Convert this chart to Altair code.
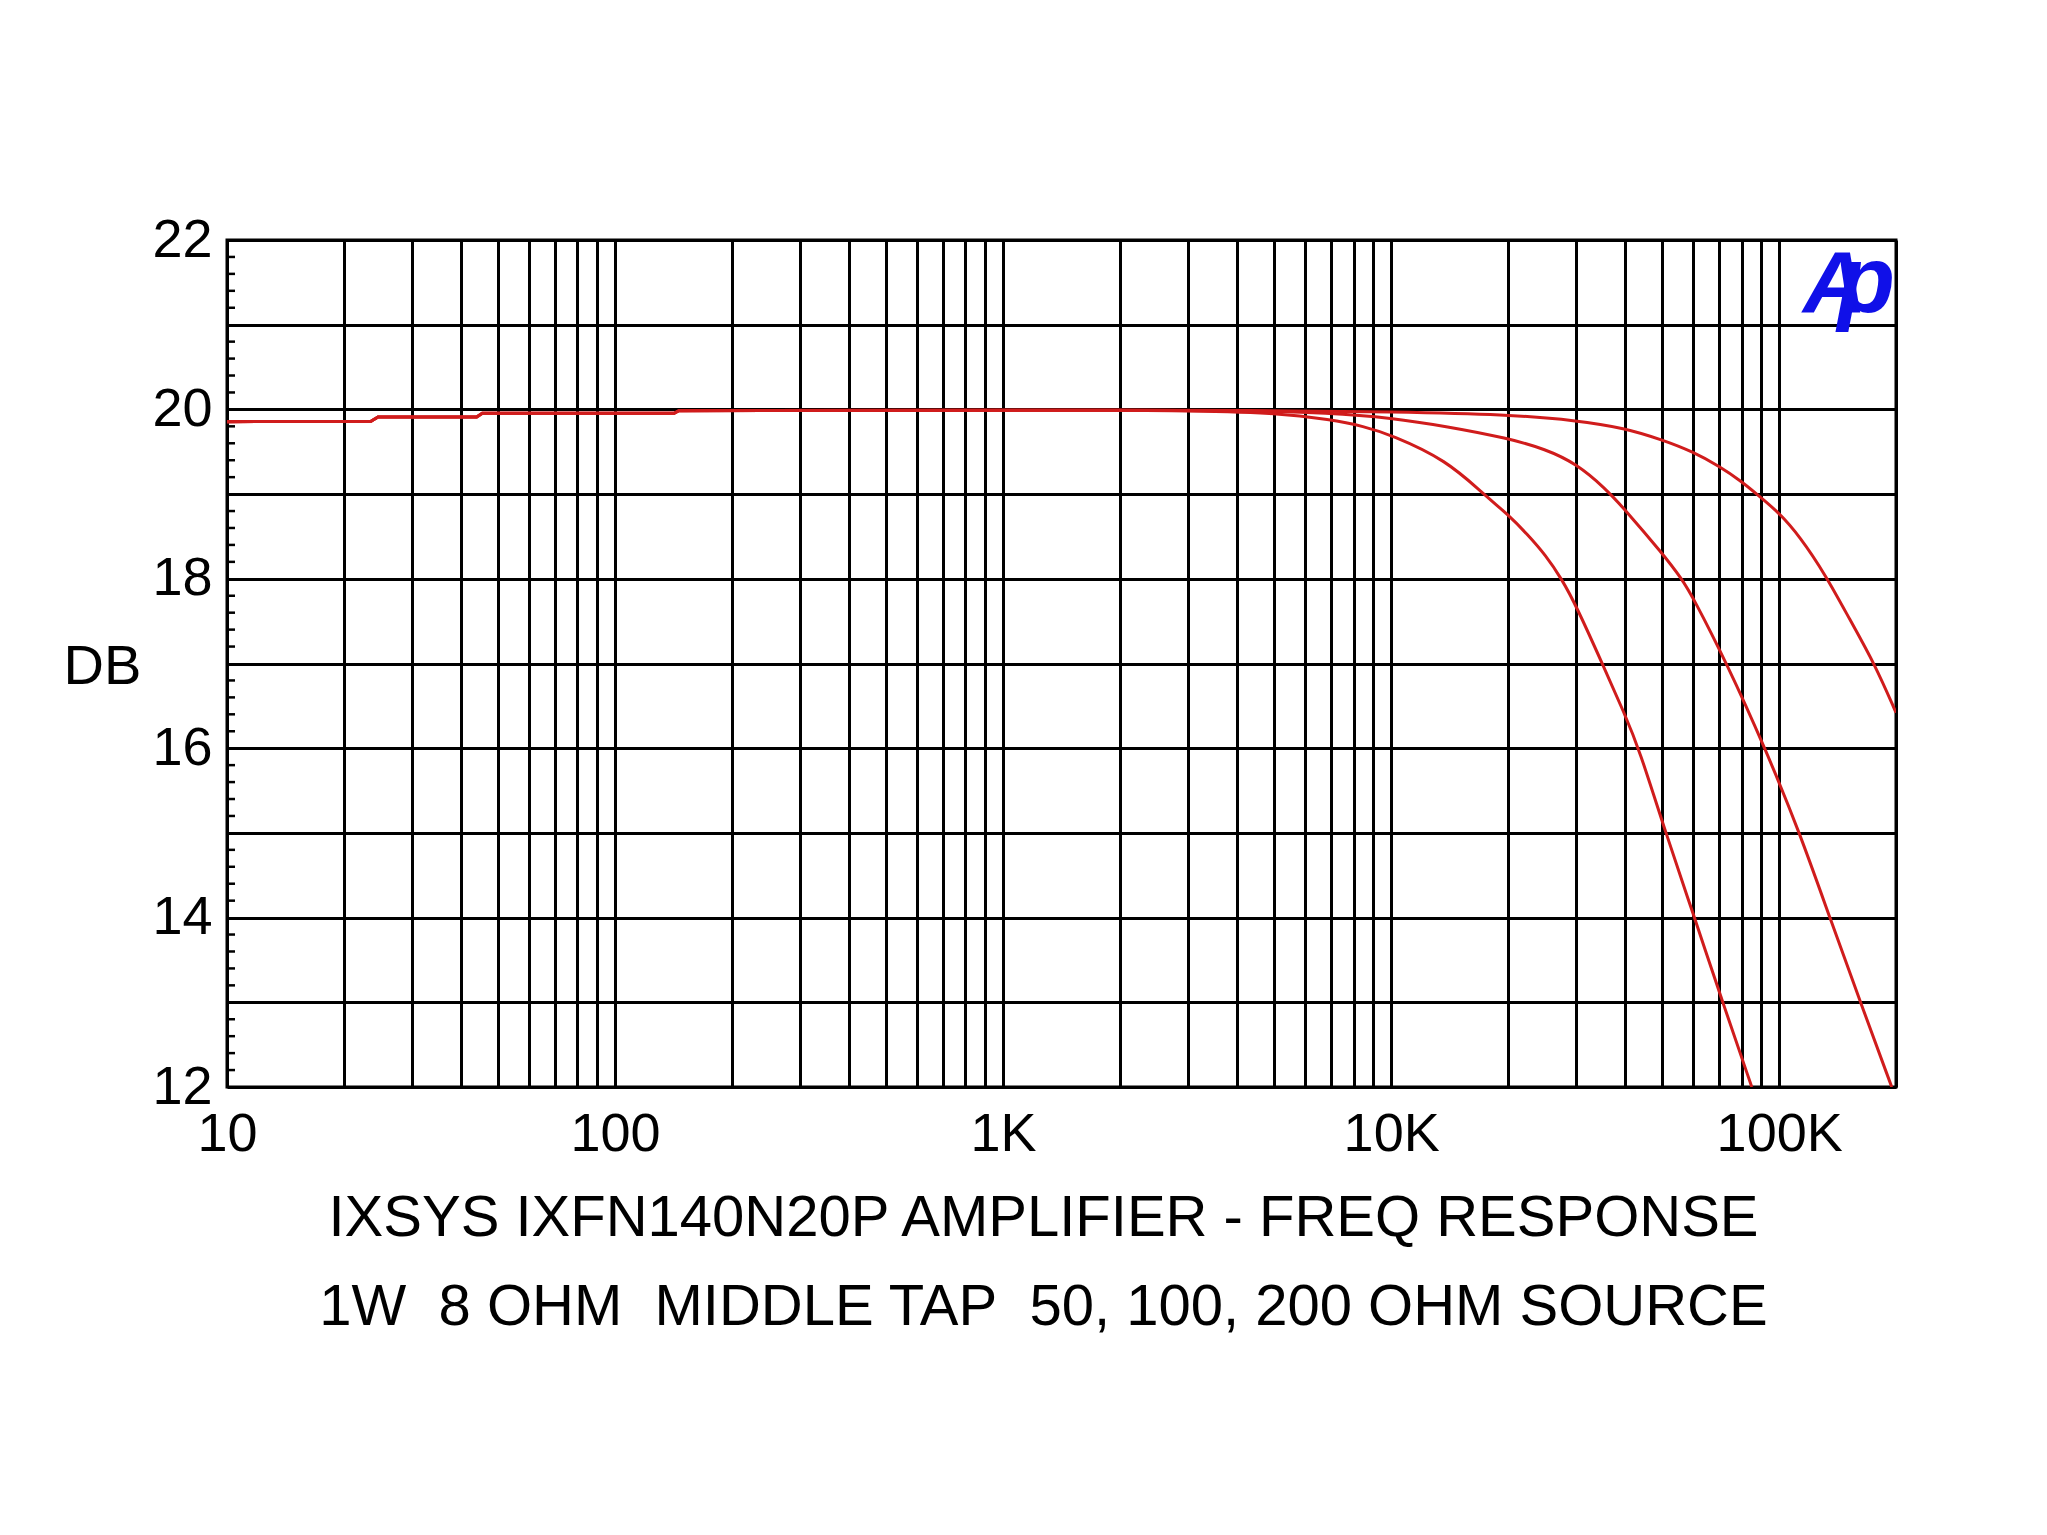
import altair as alt
import pandas as pd

# ---- data (frequency in Hz, level in dB) ----
series_names = ["200 OHM SOURCE", "100 OHM SOURCE", "50 OHM SOURCE"]

freq_200 = [10, 23.5, 24.5, 44, 45.5, 142, 146, 1000, 3000, 5000, 7000, 8500, 10000, 13900,
            17300, 20000, 22500, 25000, 27500, 30000, 35000, 40000, 43500, 51000, 60500, 71500, 85000]
db_200 = [19.855, 19.86, 19.91, 19.91, 19.955, 19.955, 19.985, 19.99, 19.99, 19.96, 19.88, 19.80,
          19.70, 19.40, 19.0, 18.76, 18.52, 18.28, 18.0, 17.68, 17.0, 16.40, 16.0, 15.0, 14.0, 13.0, 12.0]

freq_100 = [10, 23.5, 24.5, 44, 45.5, 142, 146, 1000, 4000, 7000, 10000, 13900, 20000, 25000,
            30000, 35600, 40000, 50000, 56100, 60000, 73300, 92000, 113000, 135000, 162000, 195000]
db_100 = [19.855, 19.86, 19.91, 19.91, 19.955, 19.955, 19.985, 19.99, 19.99, 19.96, 19.90, 19.80,
          19.66, 19.53, 19.36, 19.07, 18.82, 18.30, 18.0, 17.78, 17.0, 16.0, 15.0, 14.0, 13.0, 12.0]

freq_50 = [10, 23.5, 24.5, 44, 45.5, 142, 146, 1000, 5000, 10000, 20000, 30000, 40000, 50000,
           60000, 70000, 80000, 87500, 100000, 113000, 131500, 152000, 176000, 200000]
db_50 = [19.855, 19.86, 19.91, 19.91, 19.955, 19.955, 19.985, 19.99, 19.99, 19.97, 19.94, 19.87,
         19.78, 19.64, 19.50, 19.33, 19.15, 19.0, 18.78, 18.50, 18.05, 17.52, 17.0, 16.42]

x_tick_values = [m * 10 ** e for e in range(1, 6) for m in range(1, 10)] + [200000]
y_tick_values = list(range(12, 23))
y_minor_ticks = [round(12 + 0.2 * i, 1) for i in range(1, 50) if i % 5 != 0]

title_lines = ["IXSYS IXFN140N20P AMPLIFIER - FREQ RESPONSE",
               "1W\u00a0\u00a08 OHM\u00a0\u00a0MIDDLE TAP\u00a0\u00a050, 100, 200 OHM SOURCE"]

rows = []
for name, fs, ds in zip(series_names, [freq_200, freq_100, freq_50], [db_200, db_100, db_50]):
    for f, d in zip(fs, ds):
        rows.append({"series": name, "freq": f, "db": d})
df = pd.DataFrame(rows)

FONT = "Liberation Sans"
W, H = 1669, 847
LINE_RED = "#d01c1c"

xscale = alt.Scale(type="log", domain=[10, 200000], nice=False)
yscale = alt.Scale(domain=[12, 22], nice=False, zero=False)

label_expr_x = ("datum.value == 10 ? '10' : datum.value == 100 ? '100' : "
                "datum.value == 1000 ? '1K' : datum.value == 10000 ? '10K' : "
                "datum.value == 100000 ? '100K' : ''")

x_axis = alt.Axis(
    values=x_tick_values, labelExpr=label_expr_x, labelOverlap=False, labelFlush=False,
    ticks=False, tickSize=0, domain=False, grid=True, gridColor="black", gridWidth=3,
    gridOpacity=1, labelFont=FONT, labelFontSize=54, labelColor="black", labelPadding=20,
    title=title_lines, titleFont=FONT, titleFontSize=58, titleFontWeight="normal",
    titleColor="black", titleX=816, titleY=102, titleAlign="center", titleBaseline="top",
    titleLineHeight=89)

y_axis = alt.Axis(
    values=y_tick_values, labelExpr="datum.value % 2 == 0 ? datum.label : ''",
    labelOverlap=False, labelFlush=False, ticks=False, tickSize=0, domain=False, grid=True,
    gridColor="black", gridWidth=3, gridOpacity=1, labelFont=FONT, labelFontSize=54,
    labelColor="black", labelPadding=15, title="DB", titleFont=FONT, titleFontSize=56,
    titleFontWeight="normal", titleColor="black", titleAngle=0, titleX=-125, titleY=426,
    titleAlign="center", titleBaseline="middle")

# low-frequency part (stepped), drawn with straight segments
low = alt.Chart(df).transform_filter("datum.freq <= 1000").mark_line(
    color=LINE_RED, strokeWidth=3, clip=True).encode(
    x=alt.X("freq:Q", scale=xscale, axis=x_axis),
    y=alt.Y("db:Q", scale=yscale, axis=y_axis),
    detail="series:N",
)

# roll-off part, drawn as a smooth curve
high = alt.Chart(df).transform_filter("datum.freq >= 1000").mark_line(
    color=LINE_RED, strokeWidth=3, clip=True, interpolate="basis").encode(
    x=alt.X("freq:Q", scale=xscale, axis=x_axis),
    y=alt.Y("db:Q", scale=yscale, axis=y_axis),
    detail="series:N",
)

minor = alt.Chart(pd.DataFrame({"db": y_minor_ticks})).mark_rule(color="black", strokeWidth=2.5).encode(
    y=alt.Y("db:Q", scale=yscale, axis=y_axis),
    x=alt.value(0), x2=alt.value(8),
)

logo_a = alt.Chart(pd.DataFrame({"t": ["A"]})).mark_text(
    font=FONT, fontSize=88, fontWeight="bold", fontStyle="italic", color="#1010e8",
    align="left", baseline="alphabetic",
).encode(text="t:N", x=alt.value(1576), y=alt.value(72))

logo_p = alt.Chart(pd.DataFrame({"t": ["p"]})).mark_text(
    font=FONT, fontSize=94, fontWeight="bold", fontStyle="italic", color="#1010e8",
    align="right", baseline="alphabetic",
).encode(text="t:N", x=alt.value(1668), y=alt.value(72))

chart = alt.layer(low, high, minor, logo_a, logo_p).properties(
    width=W, height=H,
    autosize=alt.AutoSizeParams(type="none"),
    padding={"left": 219, "top": 232, "right": 120, "bottom": 260},
    background="white",
).configure_view(stroke="black", strokeWidth=3)

chart.save("out.html", embed_options={"renderer": "svg", "actions": False})
